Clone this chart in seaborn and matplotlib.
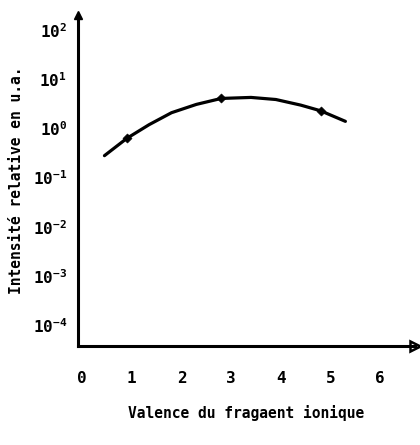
import matplotlib
matplotlib.use("Agg")
import matplotlib.pyplot as plt
import seaborn as sns
import pandas as pd
import numpy as np

# Measured relative intensity versus ionic fragment valence
valence = [0.45, 0.9, 1.35, 1.8, 2.3, 2.8, 3.4, 3.9, 4.4, 4.8, 5.3]
intensite = [0.28, 0.63, 1.2, 2.1, 3.1, 4.1, 4.3, 3.9, 3.0, 2.3, 1.4]
points_valence = [0.9, 2.8, 4.8]
points_intensite = [0.63, 4.1, 2.3]

x_ticks = [0, 1, 2, 3, 4, 5, 6]
y_exponents = [2, 1, 0, -1, -2, -3, -4]

sns.set_style("white")
plt.rcParams["font.family"] = ["DejaVu Sans Mono", "DejaVu Sans"]
plt.rcParams["font.weight"] = "bold"
plt.rcParams["text.color"] = "black"
plt.rcParams["axes.labelcolor"] = "black"
plt.rcParams["xtick.color"] = "black"
plt.rcParams["ytick.color"] = "black"
plt.rcParams["mathtext.fontset"] = "custom"
plt.rcParams["mathtext.rm"] = "DejaVu Sans Mono:bold"
plt.rcParams["mathtext.it"] = "DejaVu Sans Mono:bold"
plt.rcParams["mathtext.bf"] = "DejaVu Sans Mono:bold"

fig = plt.figure(figsize=(4.2, 4.45), dpi=100)
ax = fig.add_axes([0.186, 0.2225, 0.802, 0.7435])

df = pd.DataFrame({"v": valence, "i": intensite})
sns.lineplot(data=df, x="v", y="i", ax=ax, color="black", linewidth=2.3)
sns.scatterplot(x=points_valence, y=points_intensite, ax=ax, color="black",
                marker="D", s=22, edgecolor="black", zorder=3)

ax.set_yscale("log")
ax.set_xlim(-0.08, 6.7)
ax.set_ylim(10 ** -4.43, 10 ** 2.31)

ax.set_xticks(x_ticks)
ax.set_xticklabels([str(t) for t in x_ticks], fontsize=11.5, fontweight="bold")
ax.set_yticks([10.0 ** e for e in y_exponents])
ax.set_yticklabels([r"$10^{%d}$" % e for e in y_exponents], fontsize=11.5)
ax.yaxis.set_minor_locator(matplotlib.ticker.NullLocator())
ax.tick_params(axis="both", direction="inout", length=6, width=1.5, color="black",
               labelcolor="black")
ax.tick_params(axis="x", pad=15)
ax.tick_params(axis="y", pad=5)

for side in ["top", "right"]:
    ax.spines[side].set_visible(False)
for side in ["left", "bottom"]:
    ax.spines[side].set_linewidth(2.2)
    ax.spines[side].set_color("black")

# Axis arrow heads
ax.plot(1.0, 0.0, marker=">", color="black", markersize=7, transform=ax.transAxes,
        clip_on=False, markerfacecolor="none", markeredgewidth=1.8)
ax.plot(0.0, 1.0, marker="^", color="black", markersize=6, transform=ax.transAxes,
        clip_on=False)

ax.set_xlabel("Valence du fragaent ionique", fontsize=10.5, fontweight="bold",
              labelpad=14, color="black")
ax.set_ylabel("Intensité relative en u.a.", fontsize=10.5, fontweight="bold",
              labelpad=6, color="black")

fig.savefig("out.png", dpi=100)
